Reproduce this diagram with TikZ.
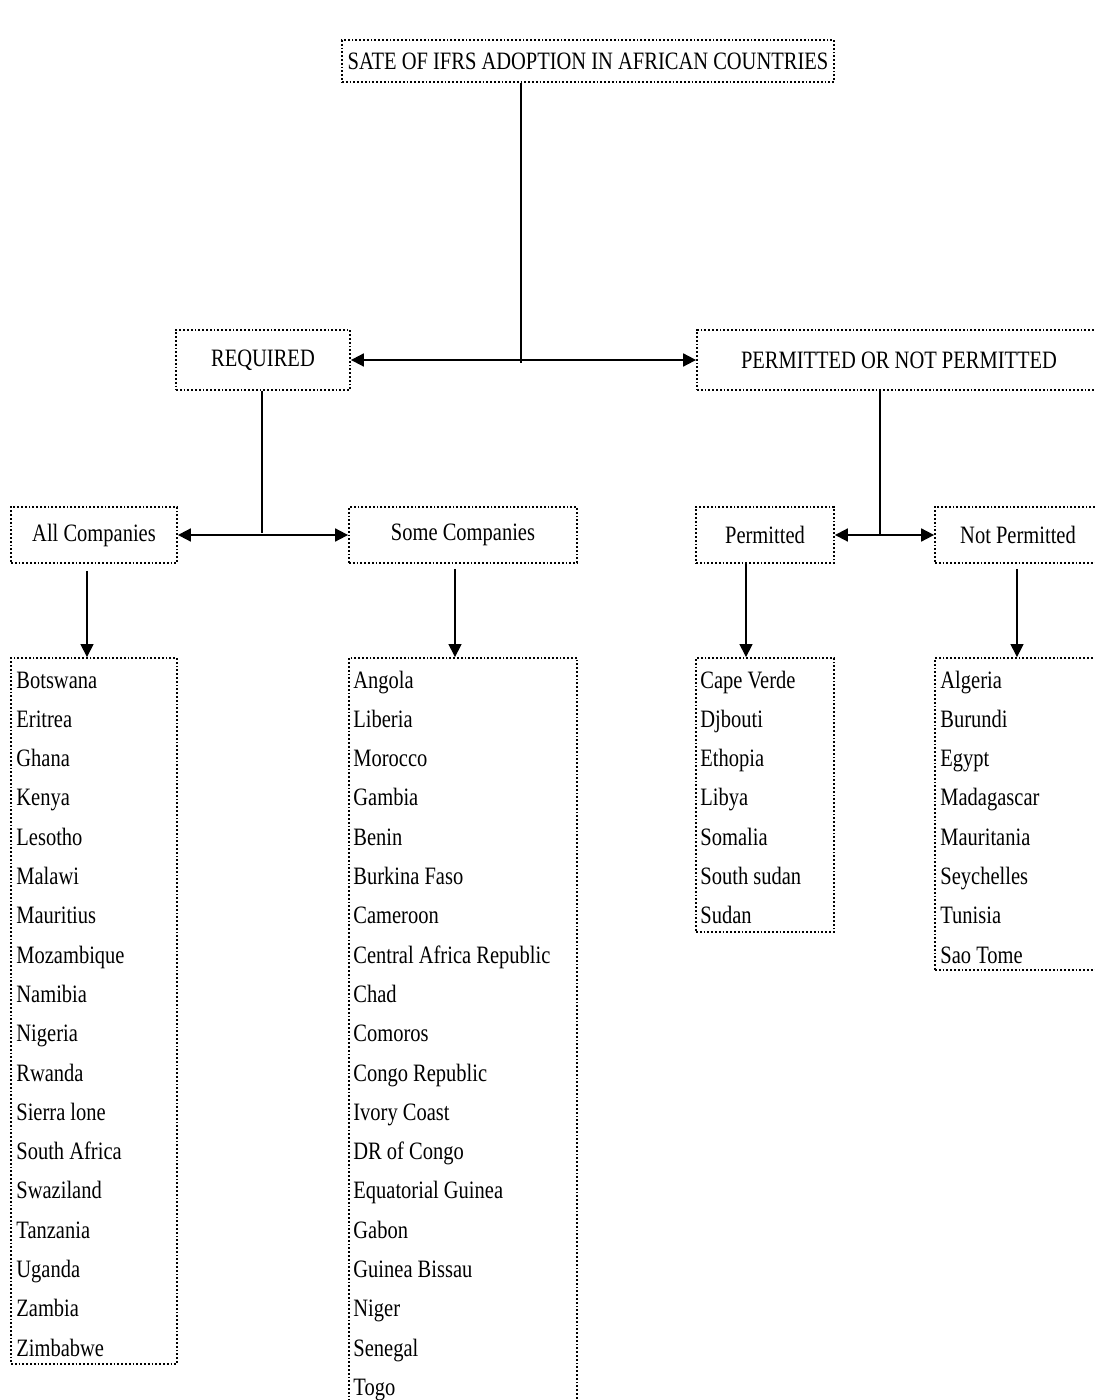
\documentclass[tikz,border=0pt]{standalone}
\usepackage{fontspec}
\setmainfont{Liberation Serif}[FakeStretch=0.82]
\usetikzlibrary{positioning,arrows.meta}
\tikzset{
    dotbox/.style={draw, densely dotted, line width=0.9pt, inner sep=0pt,
        font=\fontsize{12.5}{14}\selectfont},
    country/.style={anchor=base west, inner sep=0pt, font=\fontsize{12.5}{14}\selectfont},
    link/.style={-{Triangle[width=6.5pt,length=6.5pt]}, line width=0.6pt},
    twoway/.style={{Triangle[width=6.5pt,length=6.5pt]}-{Triangle[width=6.5pt,length=6.5pt]}, line width=0.9pt},
    stem/.style={line width=0.6pt}
}
\begin{document}
\begin{tikzpicture}[x=0.5pt,y=-0.5pt]
    \useasboundingbox (0,0) rectangle (1095,1400);
    % heading
    \node[dotbox, minimum width=246pt, minimum height=21pt] (title) at (588,61)
        {SATE OF IFRS ADOPTION IN AFRICAN COUNTRIES};
    % first level
    \node[dotbox, minimum width=87pt, minimum height=30pt] (req) at (263,360) {REQUIRED};
    \node[dotbox, minimum width=202pt, minimum height=30pt] (perm) at (899,360)
        {PERMITTED OR NOT PERMITTED};
    % second level
    \node[dotbox, minimum width=83pt, minimum height=28pt] (all) at (94,535) {All Companies};
    \node[dotbox, minimum width=114pt, minimum height=28pt] (some) at (463,535) {Some Companies};
    \node[dotbox, minimum width=69pt, minimum height=28pt] (yes) at (765,535) {Permitted};
    \node[dotbox, minimum width=83pt, minimum height=28pt] (no) at (1018,535) {Not Permitted};
    % list boxes
    \node[dotbox, minimum width=83pt, minimum height=353pt] (alllist) at (94,1011) {};
    \node[dotbox, minimum width=114pt, minimum height=376pt] (somelist) at (463,1034) {};
    \node[dotbox, minimum width=69pt, minimum height=137pt] (yeslist) at (765,795) {};
    \node[dotbox, minimum width=83pt, minimum height=156pt] (nolist) at (1018,814) {};
    % countries
    \foreach \c [count=\i from 0] in {Botswana, Eritrea, Ghana, Kenya, Lesotho, Malawi,
        Mauritius, Mozambique, Namibia, Nigeria, Rwanda, Sierra lone, South Africa,
        Swaziland, Tanzania, Uganda, Zambia, Zimbabwe}
        \node[country] (all-\i) at (16,688+39.3*\i) {\c};
    \foreach \c [count=\i from 0] in {Angola, Liberia, Morocco, Gambia, Benin, Burkina Faso,
        Cameroon, Central Africa Republic, Chad, Comoros, Congo Republic, Ivory Coast,
        DR of Congo, Equatorial Guinea, Gabon, Guinea Bissau, Niger, Senegal, Togo}
        \node[country] (some-\i) at (353,688+39.3*\i) {\c};
    \foreach \c [count=\i from 0] in {Cape Verde, Djbouti, Ethopia, Libya, Somalia,
        South sudan, Sudan}
        \node[country] (yes-\i) at (700,688+39.3*\i) {\c};
    \foreach \c [count=\i from 0] in {Algeria, Burundi, Egypt, Madagascar, Mauritania,
        Seychelles, Tunisia, Sao Tome}
        \node[country] (no-\i) at (940,688+39.3*\i) {\c};
    % joints
    \coordinate (tjoin) at (521,363);
    \coordinate (rjoin) at (262,533);
    \coordinate (pjoin) at (880,534);
    \coordinate (aa) at (87,0);
    \coordinate (sa) at (455,0);
    \coordinate (ya) at (746,0);
    \coordinate (na) at (1017,0);
    % connectors
    \draw[stem] (title.south -| tjoin) -- (tjoin);
    \draw[twoway] (req.east) -- (perm.west);
    \draw[stem] (req.south -| rjoin) -- (rjoin);
    \draw[twoway] (all.east) -- (some.west);
    \draw[stem] (perm.south -| pjoin) -- (pjoin);
    \draw[twoway] (yes.east) -- (no.west);
    \draw[link, shorten <=3.5pt] (all.south -| aa) -- (alllist.north -| aa);
    \draw[link, shorten <=2.5pt] (some.south -| sa) -- (somelist.north -| sa);
    \draw[link] (yes.south -| ya) -- (yeslist.north -| ya);
    \draw[link, shorten <=2.5pt] (no.south -| na) -- (nolist.north -| na);
\end{tikzpicture}
\end{document}
